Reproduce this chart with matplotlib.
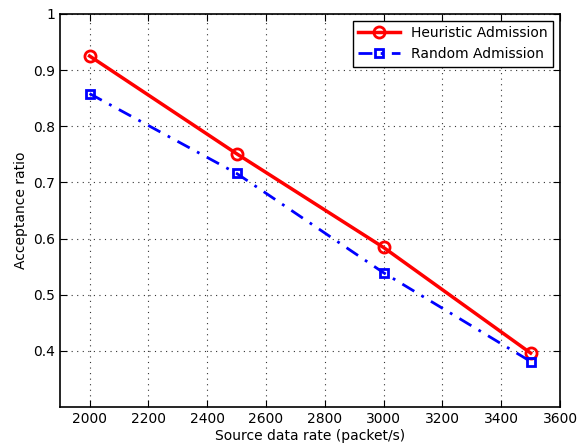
import matplotlib
matplotlib.use("Agg")
import matplotlib.pyplot as plt

# data
rates = [2000, 2500, 3000, 3500]
heuristic = [0.925, 0.751, 0.584, 0.396]
random_adm = [0.858, 0.716, 0.539, 0.381]
xticks = [2000, 2200, 2400, 2600, 2800, 3000, 3200, 3400, 3600]
yticks = [0.4, 0.5, 0.6, 0.7, 0.8, 0.9, 1.0]
ytick_labels = ["0.4", "0.5", "0.6", "0.7", "0.8", "0.9", "1"]

plt.rcParams['font.family'] = ['DejaVu Sans']
fig = plt.figure(figsize=(5.84, 4.47), dpi=100)
ax = fig.add_axes([0.103, 0.0895, 0.856, 0.8795])

ax.plot(rates, heuristic, '-o', color='#ff0000', linewidth=2.5, markersize=8,
        markerfacecolor='none', markeredgewidth=2, label='Heuristic Admission')
ax.plot(rates, random_adm, color='#0000ff', linestyle=(0, (5, 3, 1, 3)), marker='s',
        linewidth=2, markersize=6, markerfacecolor='none', markeredgewidth=2,
        label='Random Admission')

ax.set_xlim(1900, 3600)
ax.set_ylim(0.3, 1.0)
ax.set_xticks(xticks)
ax.set_yticks(yticks)
ax.set_yticklabels(ytick_labels)
ax.tick_params(direction='in', top=True, right=True, labelsize=10, length=5)
ax.grid(True, linestyle=(0, (1, 4)), color='#333333', linewidth=0.8)
for s in ax.spines.values():
    s.set_linewidth(1.2)

ax.set_xlabel('Source data rate (packet/s)', fontsize=10, labelpad=2)
ax.set_ylabel('Acceptance ratio', fontsize=10)

leg = ax.legend(loc='upper right', fontsize=10, fancybox=False, framealpha=1,
                edgecolor='black', handlelength=3, borderaxespad=0.5)
leg.get_frame().set_linewidth(1.0)

fig.savefig('out.png', dpi=100)
